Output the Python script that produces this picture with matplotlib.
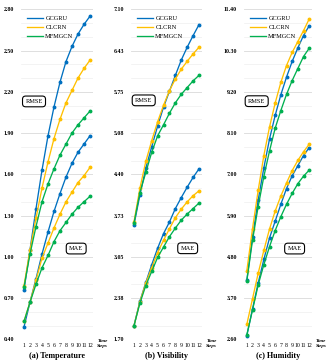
import matplotlib
matplotlib.use('Agg')
import matplotlib.pyplot as plt
import numpy as np

steps = list(range(1, 13))
models = ['GCGRU', 'CLCRN', 'MFMGCN']
colors = {'GCGRU': '#0070C0', 'CLCRN': '#FFC000', 'MFMGCN': '#00B050'}

# (a) Temperature
temp_rmse = {
    'GCGRU':  [0.76, 1.05, 1.35, 1.63, 1.88, 2.09, 2.27, 2.42, 2.53, 2.62, 2.69, 2.75],
    'CLCRN':  [0.79, 1.05, 1.28, 1.50, 1.69, 1.86, 2.00, 2.12, 2.21, 2.30, 2.37, 2.43],
    'MFMGCN': [0.78, 1.02, 1.22, 1.40, 1.53, 1.64, 1.74, 1.82, 1.90, 1.96, 2.01, 2.06],
}
temp_mae = {
    'GCGRU':  [0.49, 0.67, 0.84, 1.02, 1.18, 1.33, 1.46, 1.58, 1.68, 1.76, 1.82, 1.88],
    'CLCRN':  [0.53, 0.67, 0.83, 0.99, 1.10, 1.21, 1.31, 1.40, 1.47, 1.54, 1.59, 1.65],
    'MFMGCN': [0.53, 0.67, 0.80, 0.92, 1.01, 1.11, 1.19, 1.25, 1.31, 1.36, 1.40, 1.44],
}
# (b) Visibility
vis_rmse = {
    'GCGRU':  [3.57, 4.06, 4.50, 4.85, 5.19, 5.50, 5.76, 6.02, 6.27, 6.48, 6.67, 6.85],
    'CLCRN':  [3.62, 4.17, 4.61, 4.95, 5.26, 5.53, 5.77, 5.96, 6.12, 6.25, 6.37, 6.48],
    'MFMGCN': [3.60, 4.10, 4.43, 4.76, 5.03, 5.21, 5.40, 5.57, 5.71, 5.82, 5.93, 6.02],
}
vis_mae = {
    'GCGRU':  [1.92, 2.32, 2.63, 2.92, 3.19, 3.43, 3.62, 3.84, 4.02, 4.19, 4.35, 4.49],
    'CLCRN':  [1.92, 2.31, 2.62, 2.87, 3.12, 3.32, 3.51, 3.69, 3.83, 3.95, 4.05, 4.13],
    'MFMGCN': [1.92, 2.29, 2.58, 2.81, 3.04, 3.21, 3.38, 3.52, 3.65, 3.75, 3.84, 3.93],
}
# (c) Humidity
hum_rmse = {
    'GCGRU':  [4.18, 5.33, 6.31, 7.17, 7.94, 8.57, 9.12, 9.59, 10.01, 10.37, 10.70, 10.96],
    'CLCRN':  [4.43, 5.55, 6.57, 7.50, 8.26, 8.90, 9.45, 9.90, 10.25, 10.54, 10.83, 11.14],
    'MFMGCN': [4.16, 5.24, 6.14, 6.94, 7.62, 8.23, 8.70, 9.13, 9.50, 9.82, 10.14, 10.36],
}
hum_mae = {
    'GCGRU':  [2.70, 3.41, 4.10, 4.73, 5.30, 5.75, 6.20, 6.62, 6.96, 7.23, 7.50, 7.71],
    'CLCRN':  [3.00, 3.68, 4.36, 4.97, 5.54, 6.02, 6.42, 6.77, 7.10, 7.37, 7.60, 7.80],
    'MFMGCN': [2.72, 3.38, 4.05, 4.59, 5.07, 5.50, 5.87, 6.20, 6.49, 6.75, 6.95, 7.11],
}

panels = [
    ('(a) Temperature', temp_rmse, temp_mae, 0.40, 2.80, (2.67, 2.13), (9.7, 1.06)),
    ('(b) Visibility', vis_rmse, vis_mae, 1.70, 7.10, (2.65, 5.61), (10.08, 3.19)),
    ('(c) Humidity', hum_rmse, hum_mae, 2.60, 11.40, (2.74, 8.95), (9.43, 5.02)),
]
lefts = [21, 131, 244]
rights = [93, 202, 312]

plt.rcParams['font.family'] = ['Liberation Serif', 'DejaVu Serif']

W, H = 331, 364
fig = plt.figure(figsize=(W / 100, H / 100), dpi=100)

for i, (title, rmse, mae, ymin, ymax, rbox, mbox) in enumerate(panels):
    ax = fig.add_axes([lefts[i] / W, 1 - 339.3 / H, (rights[i] - lefts[i]) / W, 330 / H])
    for m in models:
        ax.plot(steps, rmse[m], color=colors[m], lw=0.95, marker='o', ms=1.8, label=m)
    for m in models:
        ax.plot(steps, mae[m], color=colors[m], lw=0.95, marker='o', ms=1.8)
    ax.set_xlim(0.5, 12.5)
    ax.set_ylim(ymin, ymax)
    major = np.linspace(ymin, ymax, 9)
    minor = np.linspace(ymin, ymax, 25)
    ax.set_yticks(major)
    ax.set_yticklabels(['%.2f' % (v + 1e-6) for v in major], fontsize=4.2, fontweight='bold')
    ax.set_yticks(minor, minor=True)
    ax.set_xticks(steps)
    ax.set_xticklabels([str(s) for s in steps], fontsize=4.2)
    ax.tick_params(axis='both', which='both', length=0)
    ax.tick_params(axis='y', pad=5)
    ax.tick_params(axis='x', pad=3)
    ax.grid(axis='y', which='major', color='#D9D9D9', lw=0.6)
    ax.grid(axis='y', which='minor', color='#EFEFEF', lw=0.5)
    ax.set_axisbelow(True)
    for s in ax.spines.values():
        s.set_visible(False)
    ax.text(1.06, -0.013, 'Time\nSteps', transform=ax.transAxes, fontsize=3.6,
            style='italic', fontweight='bold', va='center', ha='left', linespacing=1.3)
    ax.text(0.5, -0.052, title, transform=ax.transAxes, fontsize=5.8,
            fontweight='bold', ha='center', va='center')
    box = dict(boxstyle='round,pad=0.45,rounding_size=0.5', fc='white', ec='black', lw=0.8)
    ax.text(rbox[0], rbox[1], 'RMSE', fontsize=4.6, ha='center', va='center', bbox=box)
    ax.text(mbox[0], mbox[1], 'MAE', fontsize=4.6, ha='center', va='center', bbox=box)
    ax.legend(loc='upper left', bbox_to_anchor=(0.0, 1.0), frameon=False, fontsize=4.6,
              handlelength=2.5, handletextpad=0.3, labelspacing=0.55, borderaxespad=0.6,
              markerscale=0)

fig.savefig('out.png', dpi=100)
